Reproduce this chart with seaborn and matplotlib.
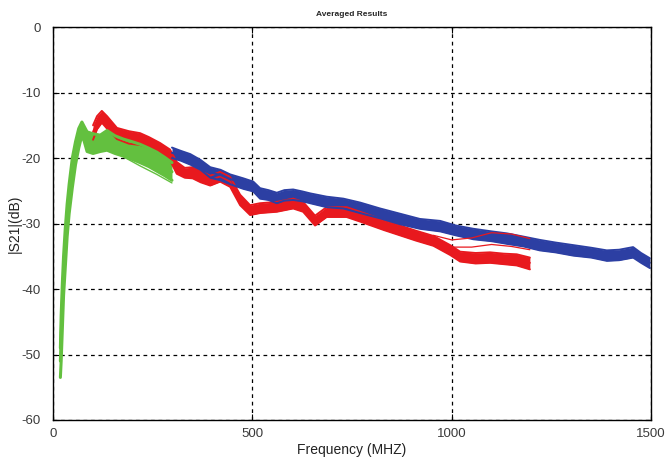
import matplotlib
matplotlib.use("Agg")
import matplotlib.pyplot as plt
import numpy as np
import pandas as pd
import seaborn as sns

# data (MHz, dB)
green_freq = [18, 20, 23, 26, 30, 35, 40, 48, 56, 64, 72, 78, 85, 100, 118, 135,
              155, 176, 198, 218, 240, 260, 280, 298]
green_upper = [-49, -44, -39, -35, -31, -27, -24, -20, -17.5, -15.5, -14.5, -15.2,
               -16, -16.3, -16.5, -15.8, -16.6, -17.1, -17.5, -17.9, -18.5, -19.1,
               -19.9, -20.7]
green_mid = [-51, -47, -42, -38, -34, -29.5, -26, -22, -19, -17, -15.5, -16.3,
             -17.5, -17.8, -17.6, -17.2, -17.8, -18.3, -18.8, -19.3, -19.9, -20.5,
             -21.3, -22.1]
green_lower = [-53.5, -51, -46, -41, -37, -32, -28.5, -24.5, -21, -18.5, -16.5,
               -17.5, -19, -19.3, -19, -18.8, -19.3, -19.7, -20.2, -20.7, -21.3,
               -22, -22.7, -23.4]
green_out_freq = [100, 135, 176, 218, 260, 298]
green_out = [-18.8, -18.6, -19.8, -21.2, -22.5, -23.8]

red_freq = [100, 110, 122, 135, 160, 190, 218, 240, 268, 293, 310, 330, 350, 370,
            394, 419, 444, 469, 494, 519, 561, 602, 627, 657, 686, 736, 770, 830,
            870, 910, 954, 996, 1021, 1060, 1096, 1130, 1163, 1196]
red_upper = [-15, -13.6, -12.8, -13.6, -15.4, -15.9, -16.2, -16.8, -17.7, -18.7,
             -20.6, -21.5, -21.4, -22, -22.7, -22.1, -22.9, -25.6, -27.2, -26.9,
             -26.7, -26.2, -26.7, -28.8, -27.5, -27.5, -28.2, -29.5, -30.3, -31.1,
             -31.9, -33.3, -34.3, -34.5, -34.4, -34.6, -34.7, -35.2]
red_mid = [-16, -14.5, -13.5, -14.5, -16.2, -16.8, -17, -17.5, -18.5, -19.5,
           -21.5, -22.2, -22.2, -22.8, -23.4, -22.8, -23.6, -26.4, -27.9, -27.6,
           -27.4, -26.9, -27.4, -29.5, -28.2, -28.2, -28.9, -30.2, -31, -31.8,
           -32.6, -34, -35, -35.2, -35.1, -35.3, -35.4, -36]
red_lower = [-17.2, -15.6, -14.6, -15.5, -17.1, -17.8, -18, -18.4, -19.4, -20.3,
             -22.4, -23, -23.1, -23.7, -24.2, -23.6, -24.4, -27.2, -28.7, -28.4,
             -28.2, -27.7, -28.2, -30.3, -29, -29, -29.7, -31, -31.8, -32.6,
             -33.4, -34.8, -35.8, -36.1, -36, -36.2, -36.4, -37]
red_out_freq = [954, 1000, 1050, 1100, 1150, 1196]
red_out1 = [-31.8, -32.5, -32.2, -31.4, -31.6, -32.3]
red_out2 = [-32.2, -33.6, -33.6, -33.2, -33.5, -34]

blue_freq = [298, 320, 344, 370, 394, 420, 444, 477, 502, 519, 540, 561, 580, 602,
             625, 645, 686, 728, 770, 820, 870, 920, 971, 1010, 1054, 1100, 1138,
             1180, 1221, 1260, 1305, 1350, 1389, 1420, 1455, 1475, 1497]
blue_upper = [-18.4, -18.9, -19.4, -20.3, -21.4, -21.8, -22.5, -23.1, -23.6, -24.6,
              -24.9, -25.3, -24.9, -24.8, -25.1, -25.4, -25.9, -26.2, -26.8, -27.7,
              -28.5, -29.3, -29.6, -30.3, -30.8, -31.2, -31.5, -32, -32.5, -32.9,
              -33.3, -33.7, -34.1, -34, -33.6, -34.5, -35.3]
blue_mid = [-19.2, -19.6, -20.2, -21, -22.2, -22.6, -23.2, -23.9, -24.3, -25.4,
            -25.6, -26.1, -25.7, -25.6, -25.8, -26.1, -26.7, -26.9, -27.6, -28.4,
            -29.3, -30, -30.4, -31, -31.6, -31.9, -32.3, -32.7, -33.3, -33.6,
            -34.1, -34.4, -34.9, -34.8, -34.4, -35.2, -36]
blue_lower = [-20, -20.4, -21, -21.8, -23, -23.4, -24, -24.7, -25.1, -26.2,
              -26.4, -26.9, -26.5, -26.4, -26.6, -26.9, -27.5, -27.7, -28.4, -29.2,
              -30.1, -30.8, -31.2, -31.8, -32.4, -32.7, -33.1, -33.5, -34.1, -34.4,
              -34.9, -35.2, -35.7, -35.6, -35.2, -36, -36.8]

RED = "#e8191e"
BLUE = "#2c3fa3"
GREEN = "#63c03f"


def traces(name, freq, series):
    rows = []
    for k, vals in enumerate(series):
        for f, v in zip(freq, vals):
            rows.append({"group": name, "trace": f"{name}{k}", "freq": f, "dB": v})
    return pd.DataFrame(rows)


sns.set_style("white")
plt.rcParams["font.family"] = ["Liberation Sans", "DejaVu Sans"]
plt.rcParams["axes.unicode_minus"] = False

fig = plt.figure(figsize=(6.65, 4.59), dpi=100, facecolor="white")
ax = fig.add_axes([0.080, 0.085, 0.899, 0.856])

# bundles: solid band between outer traces, traces drawn on top
bundles = [
    ("red", red_freq, red_upper, red_mid, red_lower, RED, 1.4),
    ("blue", blue_freq, blue_upper, blue_mid, blue_lower, BLUE, 1.4),
    ("green", green_freq, green_upper, green_mid, green_lower, GREEN, 2.2),
]
for name, freq, up, mid, lo, col, lw in bundles:
    ax.fill_between(freq, lo, up, color=col, lw=0)
    df = traces(name, freq, [up, mid, lo])
    sns.lineplot(data=df, x="freq", y="dB", units="trace", estimator=None,
                 color=col, lw=lw, ax=ax, legend=False, sort=False)

# thin stray traces
sns.lineplot(data=traces("gout", green_out_freq, [green_out]), x="freq", y="dB",
             units="trace", estimator=None, color=GREEN, lw=1.0, ax=ax,
             legend=False, sort=False)
sns.lineplot(data=traces("rout", red_out_freq, [red_out1, red_out2]), x="freq",
             y="dB", units="trace", estimator=None, color=RED, lw=0.9, ax=ax,
             legend=False, sort=False)

ax.set_xlim(0, 1500)
ax.set_ylim(-60, 0)
ax.set_xticks([0, 500, 1000, 1500])
ax.set_yticks([-60, -50, -40, -30, -20, -10, 0])
ax.grid(True, color="black", linestyle=(0, (3, 3)), linewidth=0.9)
ax.set_axisbelow(True)

for s in ax.spines.values():
    s.set_visible(True)
    s.set_color("black")
    s.set_linewidth(1.0)

ax.tick_params(axis="both", direction="in", length=4, width=0.8, colors="black",
               labelcolor="#3a3a3a", labelsize=9.5, top=True, right=True,
               bottom=True, left=True)
ax.tick_params(axis="y", pad=9)
ax.tick_params(axis="x", pad=6)

ax.set_xlabel("Frequency (MHZ)", fontsize=10, color="#222222", labelpad=2)
ax.set_ylabel("|S21|(dB)", fontsize=10, color="#222222", labelpad=0)
ax.set_title("Averaged Results", fontsize=6, fontweight="bold", pad=8)

fig.savefig("out.png", dpi=100, facecolor="white")
